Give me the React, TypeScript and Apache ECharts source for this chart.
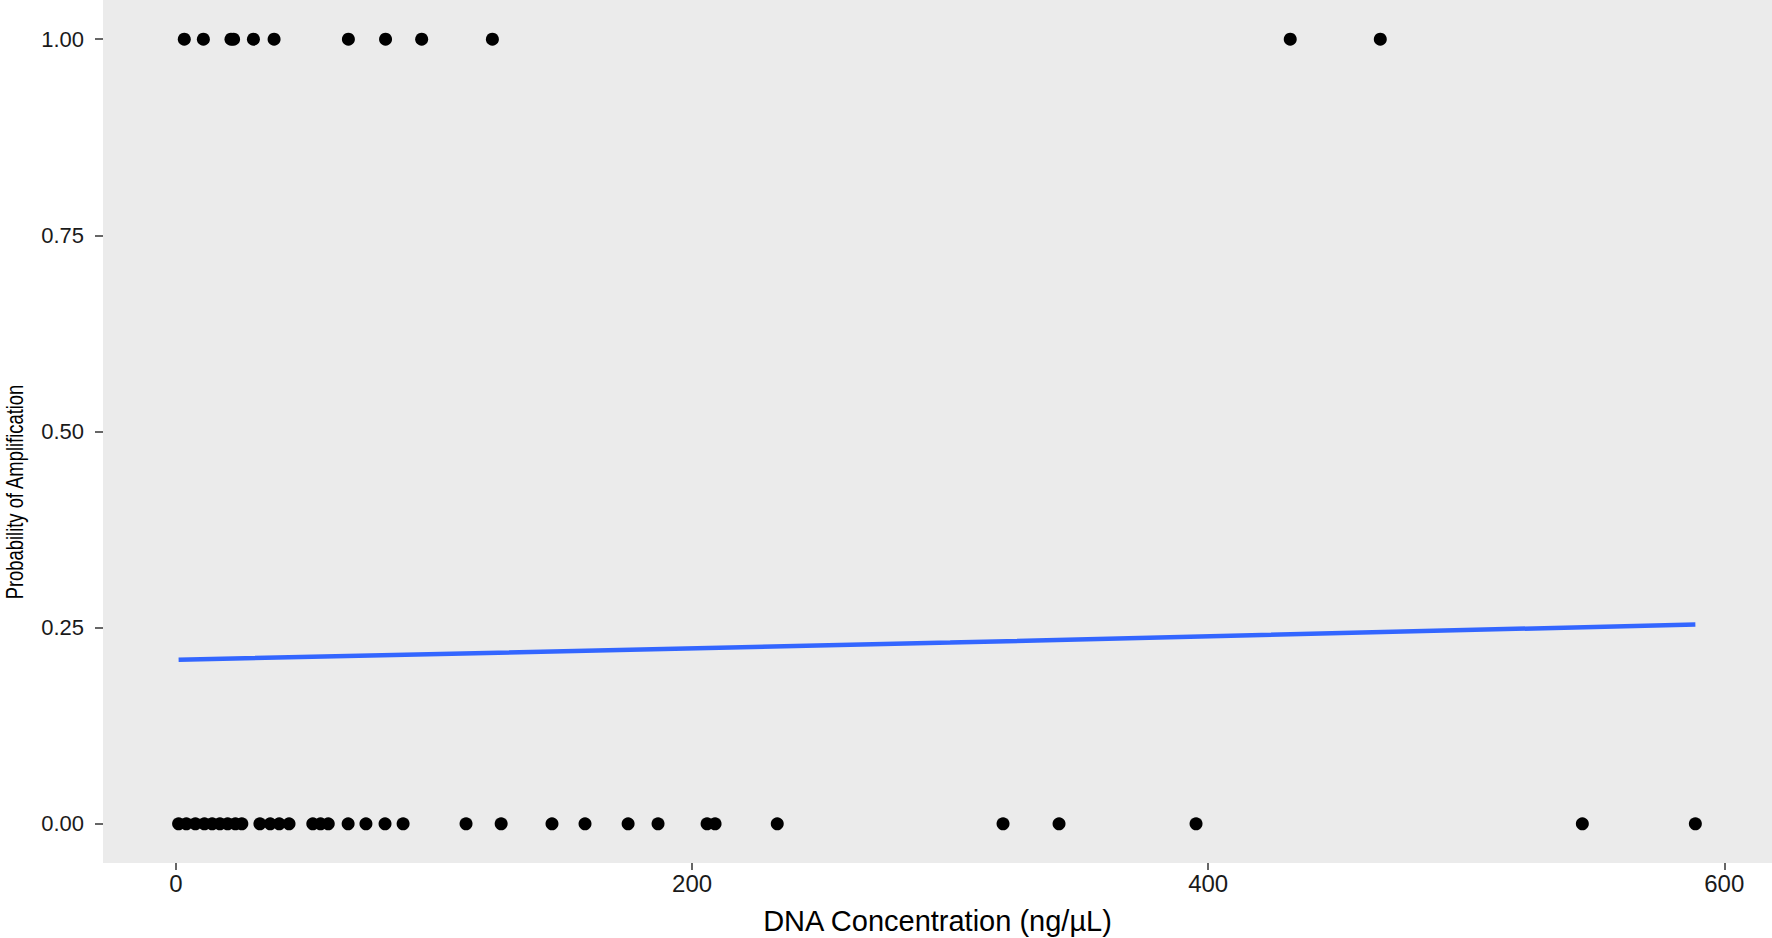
import React, { useEffect, useRef } from "react";
import * as echarts from "echarts";

const ZERO_X = [1, 4, 7.5, 11, 14, 17, 20, 23, 25.5, 32.5, 36.5, 40, 43.8, 53, 56, 59, 66.7, 73.6, 81, 88, 112.4, 126, 145.7, 158.5, 175.2, 186.8, 205.8, 208.9, 233, 320.5, 342.2, 395.3, 545, 588.8];
const ONE_X = [3.2, 10.6, 21.3, 22.3, 30, 38, 66.8, 81.2, 95.2, 122.6, 431.8, 466.7];
const LINE_X = [1, 300, 588.8];
const LINE_Y = [0.209, 0.231, 0.254];
const X_TICKS = [0, 200, 400, 600];
const Y_TICKS = [0, 0.25, 0.5, 0.75, 1];
const X_TITLE = "DNA Concentration (ng/µL)";
const Y_TITLE = "Probability of Amplification";

const FONT = "Liberation Sans, Arial, Helvetica, sans-serif";

export default function App() {
  const ref = useRef<HTMLDivElement>(null);
  useEffect(() => {
    if (!ref.current) return;
    const chart = echarts.init(ref.current, null, { renderer: "svg" });
    const points = [
      ...ZERO_X.map((x) => [x, 0]),
      ...ONE_X.map((x) => [x, 1]),
    ];
    const line = LINE_X.map((x, i) => [x, LINE_Y[i]]);
    chart.setOption({
      animation: false,
      backgroundColor: "#FFFFFF",
      textStyle: { fontFamily: FONT },
      grid: {
        left: 103,
        right: 0,
        top: 0,
        bottom: 75,
        show: true,
        backgroundColor: "#EBEBEB",
        borderWidth: 0,
        containLabel: false,
        outerBoundsMode: "none",
      },
      xAxis: {
        type: "value",
        min: -28.3,
        max: 618.5,
        name: X_TITLE,
        nameLocation: "middle",
        nameGap: 43,
        nameTextStyle: { fontSize: 29, color: "#000", fontFamily: FONT },
        axisLine: { show: false, onZero: false },
        splitLine: { show: false },
        axisTick: {
          show: true,
          length: 7,
          lineStyle: { color: "#333333", width: 1.5 },
          customValues: X_TICKS,
        },
        axisLabel: {
          fontSize: 24,
          color: "#1A1A1A",
          margin: 8,
          fontFamily: FONT,
          customValues: X_TICKS,
          formatter: (v: number) => String(v),
        },
      },
      yAxis: {
        type: "value",
        min: -0.05,
        max: 1.05,
        axisLine: { show: false, onZero: false },
        splitLine: { show: false },
        axisTick: {
          show: true,
          length: 8,
          lineStyle: { color: "#333333", width: 1.5 },
          customValues: Y_TICKS,
        },
        axisLabel: {
          fontSize: 22,
          color: "#1A1A1A",
          margin: 19,
          fontFamily: FONT,
          customValues: Y_TICKS,
          formatter: (v: number) => v.toFixed(2),
        },
      },
      graphic: [
        {
          type: "text",
          x: 15,
          y: 492,
          rotation: Math.PI / 2,
          scaleX: 0.8,
          style: {
            text: Y_TITLE,
            fontSize: 23,
            fontFamily: FONT,
            fill: "#000",
            textAlign: "center",
            textVerticalAlign: "middle",
          },
        },
      ],
      series: [
        {
          type: "scatter",
          data: points,
          symbol: "circle",
          symbolSize: 13,
          itemStyle: { color: "#000000", opacity: 1 },
          z: 2,
        },
        {
          type: "line",
          data: line,
          showSymbol: false,
          smooth: false,
          lineStyle: { color: "#3366FF", width: 4.5 },
          z: 3,
        },
      ],
    });
    return () => chart.dispose();
  }, []);
  return (
    <div
      ref={ref}
      style={{ position: "fixed", left: 0, top: 0, width: 1772, height: 938 }}
    />
  );
}
